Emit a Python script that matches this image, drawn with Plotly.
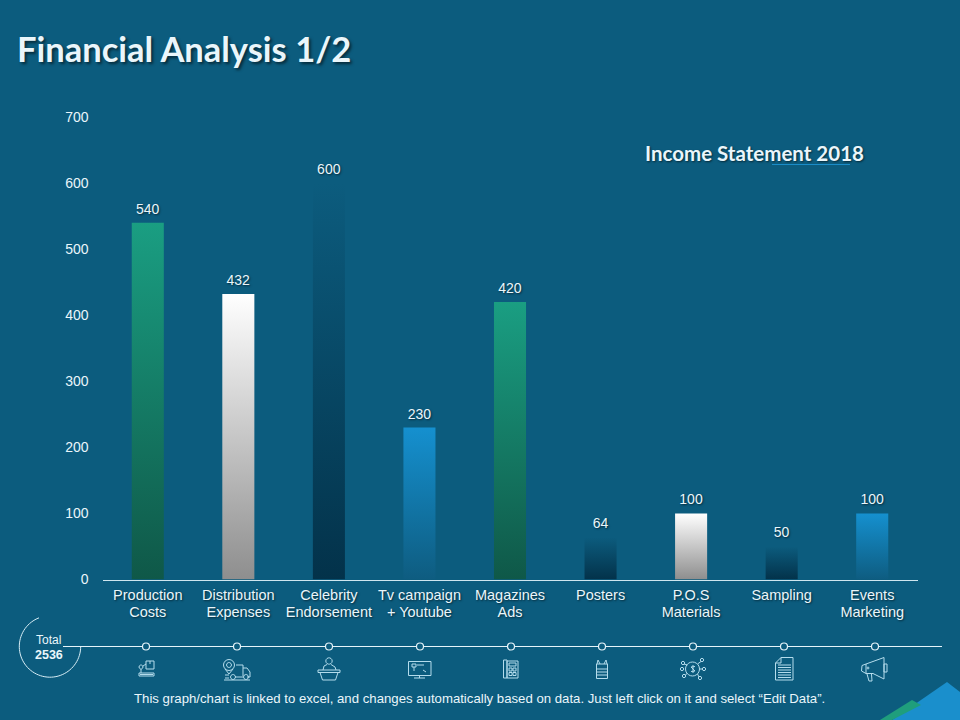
import math
import plotly.graph_objects as go

# ---------- data ----------
categories = ["Production<br>Costs", "Distribution<br>Expenses", "Celebrity<br>Endorsement",
              "Tv campaign<br>+ Youtube", "Magazines<br>Ads", "Posters", "P.O.S<br>Materials",
              "Sampling", "Events<br>Marketing"]
values = [540, 432, 600, 230, 420, 64, 100, 50, 100]
y_ticks = [0, 100, 200, 300, 400, 500, 600, 700]
grad_top = ["#1a9e82", "#ffffff", "#0c5c7e", "#1590cf", "#1a9e82", "#0c5c7e", "#ffffff", "#0c5c7e", "#1590cf"]
grad_bottom = ["#0f5848", "#8e8e8e", "#03324a", "#0e5c80", "#0f5848", "#03324a", "#8e8e8e", "#03324a", "#0e5c80"]
node_x = [146, 237, 329, 420, 511, 602, 693, 784, 875]
title_text = "Financial Analysis 1/2"
subtitle_text = "Income Statement 2018"
footer_text = "This graph/chart is linked to excel, and changes automatically based on data. Just left click on it and select “Edit Data”."
total_label = "Total"
total_value = "2536"

BG = "#0c5c7e"
TXT = "#eaf6fb"
ICON = "#b4dcec"
SHADOW = "1px 1px 2px rgba(0,0,0,0.55)"
SANS = "Liberation Sans, Arial, sans-serif"
HEAD = "Lato, sans-serif"


# ---------- decoration helpers (page pixels) ----------
def rect(x, y, w, h):
    return f"M{x},{y}H{x+w}V{y+h}H{x}Z "


def poly(pts, close=False):
    return "M" + "L".join(f"{a},{b}" for a, b in pts) + ("Z " if close else " ")


def circ(cx, cy, r, a0=0, a1=360, n=28):
    pts = []
    for i in range(n + 1):
        a = math.radians(a0 + (a1 - a0) * i / n)
        pts.append((round(cx + r * math.cos(a), 2), round(cy + r * math.sin(a), 2)))
    return poly(pts)


def hlines(x0, x1, ys):
    return "".join(f"M{x0},{y}H{x1} " for y in ys)


icons = [
    # robot arm + box
    rect(146, 661, 8, 8) + "M150,661V664 " + circ(141, 667, 2, n=10) + poly([(141, 669), (141, 673)]) + poly([(143, 666), (146, 664)]) +
    rect(139, 673, 15, 3) + hlines(140, 153, [674.5]),
    # pin + truck
    circ(229, 665, 5.5, n=16) + circ(229, 665, 2.5, n=10) + poly([(225, 669), (229, 674), (233, 669)]) +
    poly([(236, 665), (243, 665), (243, 676)]) + poly([(243, 668), (247, 668), (250, 672), (250, 677), (247, 677)]) +
    circ(233, 677, 2.5, n=10) + circ(246, 677, 2.5, n=10) + poly([(235, 677), (243, 677)]) + poly([(224, 680), (250, 680)]) + hlines(225, 229, [675, 678]),
    # speaker at podium
    circ(329, 661, 3.2, n=14) + poly([(323, 670), (324, 666), (327, 664.5)]) + poly([(331, 664.5), (335, 667), (336, 670)]) +
    rect(318, 670, 22, 2.5) + poly([(320, 672.5), (322.5, 680), (335.5, 680), (338, 672.5)]),
    # monitor
    rect(408.5, 661.5, 22.5, 14) + poly([(419.5, 675.5), (419.5, 678)]) + poly([(414, 678), (425, 678)]) +
    rect(412, 664, 4, 3) + poly([(414, 667), (414, 671)]) + poly([(417, 665), (424, 665)]) + poly([(423, 670), (426, 672)]),
    # phone / calculator
    rect(503.5, 660, 3.5, 18) + rect(507, 661, 11, 17) + rect(509, 663, 7, 3) + rect(509, 668, 3, 3) + rect(513, 668, 3, 3) + rect(509, 672.5, 3, 3) + rect(513, 672.5, 3, 3),
    # poster
    rect(596.5, 664, 11, 14.5) + poly([(597, 664), (598, 660), (600, 664)]) + poly([(604, 664), (606, 660), (607, 664)]) + hlines(597, 607, [669, 672, 675]),
    # money network
    circ(692.5, 669, 7, n=20) + poly([(693, 665), (693, 673)]) + poly([(695, 666.5), (691, 667), (695, 671), (691, 671.5)]) +
    circ(683, 663, 1.7, n=8) + circ(702, 660, 1.7, n=8) + circ(704, 669, 1.7, n=8) + circ(700, 678, 1.7, n=8) + circ(684, 676, 1.7, n=8) + circ(682, 669, 1.7, n=8) +
    poly([(684, 664), (687.5, 665)]) + poly([(701, 661.5), (697.5, 664)]) + poly([(702.5, 669), (699.5, 669)]) + poly([(699, 677), (697.5, 674)]) + poly([(685.5, 675), (687.5, 673)]),
    # document
    poly([(781, 657.5), (793, 657.5), (793, 680), (775.5, 680), (775.5, 663), (781, 657.5)], True) + poly([(781, 657.5), (781, 663), (775.5, 663)]) + hlines(778, 791, [665, 667.5, 670, 672.5, 675, 677.5]),
    # megaphone
    poly([(866, 664), (884, 657.5), (884, 679), (873, 673.5), (866, 673.5)], True) + poly([(866, 664), (862, 665.5), (861.5, 671), (866, 673.5)]) +
    rect(884, 664, 3, 8) + poly([(867, 674), (869, 681), (872, 681), (871.5, 674)]) + circ(868, 668, 1, n=8),
]


def pg(path, **kw):
    return dict(type="path", xref="x2", yref="y2", path=path, **kw)


shapes = [
    pg(poly([(892, 720), (947, 682), (960, 692), (960, 720)], True), fillcolor="#1a8fcc", line_width=0, layer="below"),
    pg(poly([(880, 720), (912, 700), (921, 705), (892, 720)], True), fillcolor="#1f9e7c", line_width=0, layer="below"),
    pg(circ(50, 646.5, 30.7, -111, -360, n=60), line=dict(color="#d8eef6", width=1)),
    pg(poly([(63, 646.5), (942, 646.5)]), line=dict(color="#e6f4fa", width=1.2), layer="below"),
    pg(poly([(772, 164.5), (850, 164.5)]), line=dict(color="#1a8cc8", width=1)),
]
for p in icons:
    shapes.append(pg(p, line=dict(color=ICON, width=1)))


def note(text, x, y, size, family=SANS, bold=False, shadow=SHADOW, anchor="center"):
    return dict(text=f"<b>{text}</b>" if bold else text, x=x, y=y, xref="x2", yref="y2", showarrow=False,
                xanchor=anchor, yanchor="middle", font=dict(family=family, size=size, color=TXT, shadow=shadow))


annotations = [
    note(title_text, 15, 48, 34.5, HEAD, True, "2px 2px 3px rgba(0,0,0,0.55)", "left"),
    note(subtitle_text, 754, 153, 20.5, HEAD, True),
    note(total_label, 48, 640, 12, shadow="none"),
    note(total_value, 49, 655, 12.5, bold=True, shadow="none"),
    note(footer_text, 479.5, 698, 13.2, shadow="none"),
]

fig = go.Figure()
fig.add_trace(go.Bar(
    x=list(range(len(categories))), y=values, width=0.354,
    marker=dict(color=grad_top, line_width=0),
    text=[str(v) for v in values], textposition="outside", cliponaxis=False,
    textfont=dict(family=SANS, size=14, color=TXT, shadow=SHADOW),
    hoverinfo="skip", showlegend=False,
))
fig.add_trace(go.Scatter(
    x=node_x, y=[646.5] * len(node_x), xaxis="x2", yaxis="y2", mode="markers",
    marker=dict(size=7, color=BG, line=dict(color="#e6f4fa", width=1.2)),
    hoverinfo="skip", showlegend=False,
))

fig.update_layout(
    template="none",
    width=960, height=720, margin=dict(l=0, r=0, t=0, b=0), autosize=False,
    paper_bgcolor=BG, plot_bgcolor="rgba(0,0,0,0)", showlegend=False,
    xaxis=dict(domain=[102.5 / 960, 917.5 / 960], range=[-0.5, 8.5], tickmode="array",
               tickvals=list(range(len(categories))), ticktext=categories, tickangle=0, automargin=False,
               tickfont=dict(family=SANS, size=14.5, color=TXT, shadow=SHADOW), showgrid=False, zeroline=False,
               showline=True, linecolor="#cfe6ef", linewidth=1, ticks="", ticklabelstandoff=2),
    yaxis=dict(domain=[(720 - 579.5) / 720, (720 - 117) / 720], range=[0, 700], tickvals=y_ticks, automargin=False,
               tickfont=dict(family=SANS, size=14, color=TXT), showgrid=False, zeroline=False, showline=False, ticks="",
               ticklabelstandoff=13),
    xaxis2=dict(domain=[0, 1], range=[0, 960], anchor="y2", visible=False, fixedrange=True, automargin=False),
    yaxis2=dict(domain=[0, 1], range=[720, 0], anchor="x2", visible=False, fixedrange=True, automargin=False),
    shapes=shapes, annotations=annotations,
)

gradient_js = """
document.documentElement.style.overflow='hidden';
document.body.style.margin='0';
var gd=document.getElementById('{plot_id}');
var tops=%s, bots=%s;
var NS='http://www.w3.org/2000/svg';
var svg=gd.querySelector('.main-svg');
var defs=svg.querySelector('defs')||svg.appendChild(document.createElementNS(NS,'defs'));
gd.querySelectorAll('.bars .point path').forEach(function(p,i){
  var g=document.createElementNS(NS,'linearGradient');
  g.setAttribute('id','bargrad'+i);
  g.setAttribute('x1','0');g.setAttribute('y1','0');g.setAttribute('x2','0');g.setAttribute('y2','1');
  [[0,tops[i]],[1,bots[i]]].forEach(function(s){
    var st=document.createElementNS(NS,'stop');
    st.setAttribute('offset',s[0]);st.setAttribute('stop-color',s[1]);g.appendChild(st);
  });
  defs.appendChild(g);
  p.style.fill='url(#bargrad'+i+')';
});
gd.querySelectorAll('.bars .point text').forEach(function(t){
  t.setAttribute('transform','translate(0,-3) '+(t.getAttribute('transform')||''));
});
gd.querySelectorAll('.xtick text tspan.line').forEach(function(t){
  if(parseFloat(t.getAttribute('dy'))>0) t.setAttribute('dy','1.17em');
});
""" % (grad_top, grad_bottom)

fig.write_html("out.html", post_script=gradient_js, config=dict(displayModeBar=False, responsive=False))
